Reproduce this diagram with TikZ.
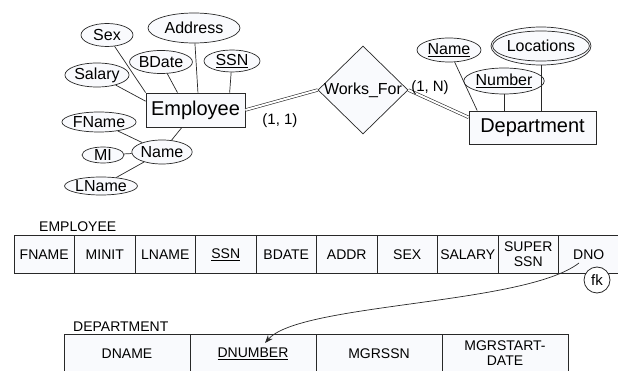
\documentclass[tikz,border=0pt]{standalone}
\usepackage{fontspec}
\setmainfont{Liberation Sans}
\usetikzlibrary{shapes.geometric,arrows.meta}
\definecolor{inkgray}{RGB}{40,40,40}
\definecolor{boxfill}{RGB}{249,250,253}
\tikzset{
  entity/.style={draw=inkgray,fill=boxfill,line width=0.8pt,inner sep=0pt,font=\fontsize{20}{24}\selectfont},
  attrib/.style={ellipse,draw=inkgray,fill=boxfill,line width=0.7pt,inner sep=0pt,font=\fontsize{16}{19}\selectfont},
  relship/.style={diamond,draw=inkgray,fill=boxfill,line width=0.7pt,inner sep=-2pt,font=\fontsize{16}{19}\selectfont},
  card/.style={inner sep=0pt,font=\fontsize{15}{18}\selectfont},
  link/.style={draw=inkgray,line width=0.7pt},
  dlink/.style={draw=inkgray,line width=0.6pt,double,double distance=2pt},
  cell/.style={draw=inkgray,fill=boxfill,line width=1pt,inner sep=0pt,align=center,font=\fontsize{14}{15}\selectfont},
  tname/.style={anchor=west,inner sep=0pt,font=\fontsize{14}{16}\selectfont},
}
\begin{document}
\begin{tikzpicture}[x=1pt,y=-1pt]
  \useasboundingbox (0,0) rectangle (618,371);

  % ER part
  \node[entity,minimum width=99pt,minimum height=34pt] (emp) at (195.5,110) {Employee};
  \node[entity,minimum width=127pt,minimum height=33pt] (dept) at (532.5,127.5) {Department};
  \node[relship,minimum width=90pt,minimum height=88pt] (wf) at (363,90) {Works\_For};

  \node[attrib,minimum width=52pt,minimum height=23pt] (sex) at (107,35) {Sex};
  \node[attrib,minimum width=92pt,minimum height=30pt] (addr) at (194,28) {Address};
  \node[attrib,minimum width=60pt,minimum height=23pt] (bdate) at (161,62) {BDate};
  \node[attrib,minimum width=56pt,minimum height=22pt] (ssn) at (232,61) {\underline{SSN}};
  \node[attrib,minimum width=54pt,minimum height=24pt] (salary) at (97,75) {Salary};
  \node[attrib,minimum width=62pt,minimum height=20pt] (fname) at (99,122) {FName};
  \node[attrib,minimum width=56pt,minimum height=24pt] (ename) at (162,152) {Name};
  \node[attrib,minimum width=42pt,minimum height=16pt] (mi) at (103,155) {MI};
  \node[attrib,minimum width=62pt,minimum height=18pt] (lname) at (101,186) {LName};

  \node[attrib,minimum width=64pt,minimum height=24pt] (dname) at (449,50) {\underline{Name}};
  \node[attrib,minimum width=72pt,minimum height=26pt] (dnum) at (504,81) {\underline{Number}};
  \node[attrib,minimum width=100pt,minimum height=38pt] (loc) at (541,46) {};
  \node[attrib,minimum width=84pt,minimum height=30pt] (locin) at (loc) {Locations};

  \draw[link] (sex) -- (emp.north west);
  \draw[link] (salary) -- (emp.170);
  \draw[link] (bdate) -- (emp.136);
  \draw[link] (addr) -- (emp.82);
  \draw[link] (ssn) -- (emp.27);
  \draw[link] (ename) -- (emp.232);
  \draw[link] (fname) -- (ename);
  \draw[link] (mi) -- (ename);
  \draw[link] (lname) -- (ename);

  \draw[link] (dname) -- (dept.163);
  \draw[link] (dnum) -- (dnum |- dept.north);
  \draw[link] (loc) -- (loc |- dept.north);

  \draw[dlink] (emp.east) -- (wf.west);
  \draw[dlink] (wf.east) -- (dept.171);
  \node[card] (c11) at (280,121) {(1, 1)};
  \node[card] (c1n) at (430,88) {(1, N)};

  % relational tables
  \node[tname] (etab) at (39,227) {EMPLOYEE};
  \foreach \txt [count=\i] in {FNAME,MINIT,LNAME,\underline{SSN},BDATE,ADDR,SEX,SALARY,{SUPER\\SSN},DNO}
    \node[cell,minimum width=60.5pt,minimum height=37pt] (ecol\i) at ({14+60.5*(\i-0.5)},254.5) {\txt};
  \node[circle,draw=inkgray,fill=white,line width=0.8pt,minimum size=26pt,inner sep=0pt,font=\fontsize{15}{16}\selectfont] (fk) at (597,280) {fk};

  \node[tname] (dtab) at (73,327) {DEPARTMENT};
  \foreach \txt [count=\i] in {DNAME,\underline{DNUMBER},MGRSSN,{MGRSTART-\\DATE}}
    \node[cell,minimum width=126pt,minimum height=39pt] (dcol\i) at ({64+126*(\i-0.5)},353.5) {\txt};

  \coordinate (fksrc) at (579,263);
  \coordinate (fkdst) at (265,343);
  \draw[link,-{Stealth[length=8pt,width=6pt]}] (fksrc) .. controls (525,305) and (300,303) .. (fkdst);
\end{tikzpicture}
\end{document}
